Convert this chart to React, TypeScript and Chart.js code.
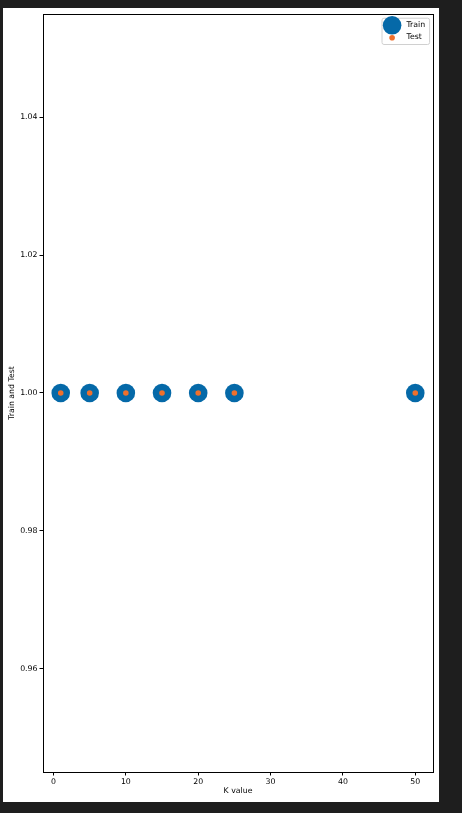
import React, { useEffect, useRef } from "react";
import { Chart, registerables } from "chart.js";

Chart.register(...registerables);

const kValues = [1, 5, 10, 15, 20, 25, 50];
const trainScores = [1, 1, 1, 1, 1, 1, 1];
const testScores = [1, 1, 1, 1, 1, 1, 1];
const xTicks = [0, 10, 20, 30, 40, 50];
const yTicks = [0.96, 0.98, 1.0, 1.02, 1.04];
const seriesNames = ["Train", "Test"];

const BLUE = "#0569a8";
const ORANGE = "#f0702c";
const FONT = "'DejaVu Sans', sans-serif";
const FS = 7.8;

export default function App() {
  const ref = useRef<HTMLCanvasElement | null>(null);

  useEffect(() => {
    if (!ref.current) return;
    const frame = {
      id: "frame",
      afterDatasetsDraw(chart: any) {
        const { ctx, chartArea: a } = chart;
        ctx.save();
        ctx.strokeStyle = "#000";
        ctx.lineWidth = 1;
        ctx.strokeRect(Math.round(a.left) + 0.5, Math.round(a.top) + 0.5, Math.round(a.right - a.left), Math.round(a.bottom - a.top));
        // legend
        const bx = a.right - 51.5;
        const by = a.top + 3.7;
        const bw = 47.6;
        const bh = 26.3;
        ctx.fillStyle = "rgba(255,255,255,0.8)";
        ctx.strokeStyle = "#d0d0d0";
        ctx.beginPath();
        (ctx as any).roundRect(bx + 0.5, by + 0.5, bw, bh, 2);
        ctx.fill();
        ctx.stroke();
        ctx.fillStyle = BLUE;
        ctx.beginPath();
        ctx.arc(bx + 10.6, by + 7.6, 9.3, 0, Math.PI * 2);
        ctx.fill();
        ctx.fillStyle = ORANGE;
        ctx.beginPath();
        ctx.arc(bx + 10.6, by + 20, 2.8, 0, Math.PI * 2);
        ctx.fill();
        ctx.fillStyle = "#000";
        ctx.font = `${FS}px ${FONT}`;
        ctx.textBaseline = "middle";
        ctx.textAlign = "left";
        ctx.fillText(seriesNames[0], bx + 25, by + 7.6);
        ctx.fillText(seriesNames[1], bx + 25, by + 18.8);
        ctx.restore();
      },
    };

    const chart = new Chart(ref.current, {
      type: "scatter",
      data: {
        datasets: [
          {
            label: seriesNames[0],
            data: kValues.map((k, i) => ({ x: k, y: trainScores[i] })),
            backgroundColor: BLUE,
            borderWidth: 0,
            pointRadius: 9.3,
            pointHoverRadius: 9.3,
            order: 2,
          },
          {
            label: seriesNames[1],
            data: kValues.map((k, i) => ({ x: k, y: testScores[i] })),
            backgroundColor: ORANGE,
            borderWidth: 0,
            pointRadius: 2.8,
            pointHoverRadius: 2.8,
            order: 1,
          },
        ],
      },
      plugins: [frame],
      options: {
        responsive: false,
        animation: false,
        layout: { autoPadding: false, padding: { top: 6, right: 6, left: 0, bottom: 0 } },
        plugins: {
          legend: { display: false },
          tooltip: { enabled: false },
        },
        scales: {
          x: {
            type: "linear",
            min: -1.45,
            max: 52.45,
            afterBuildTicks: (s: any) => {
              s.ticks = xTicks.map((v) => ({ value: v }));
            },
            afterFit: (s: any) => {
              s.height = 30;
              s.paddingLeft = 0;
              s.paddingRight = 0;
            },
            grid: { drawOnChartArea: false, drawTicks: true, tickLength: 3.5, color: "#000" },
            border: { display: true, color: "#000" },
            ticks: {
              color: "#000",
              font: { family: FONT, size: FS },
              padding: 2,
              maxRotation: 0,
              callback: (v: any) => String(v),
            },
            title: {
              display: true,
              text: "K value",
              color: "#000",
              font: { family: FONT, size: FS },
              padding: { top: 0, bottom: 6.5 },
            },
          },
          y: {
            type: "linear",
            min: 0.945,
            max: 1.055,
            afterBuildTicks: (s: any) => {
              s.ticks = yTicks.map((v) => ({ value: v }));
            },
            afterFit: (s: any) => {
              s.width = 40;
              s.paddingTop = 0;
              s.paddingBottom = 0;
            },
            grid: { drawOnChartArea: false, drawTicks: true, tickLength: 3.5, color: "#000" },
            border: { display: true, color: "#000" },
            ticks: {
              color: "#000",
              font: { family: FONT, size: FS },
              padding: 2,
              callback: (v: any) => Number(v).toFixed(2),
            },
            title: {
              display: true,
              text: "Train and Test",
              color: "#000",
              font: { family: FONT, size: FS },
              padding: { top: 4.5, bottom: 0 },
            },
          },
        },
      },
    });
    return () => chart.destroy();
  }, []);

  return (
    <div style={{ position: "fixed", left: 0, top: 0, width: 462, height: 813, background: "#1e1e1e" }}>
      <div style={{ position: "absolute", left: 3, top: 8, width: 436, height: 794, background: "#fff" }}>
        <canvas ref={ref} width={436} height={794} style={{ display: "block" }} />
      </div>
    </div>
  );
}
